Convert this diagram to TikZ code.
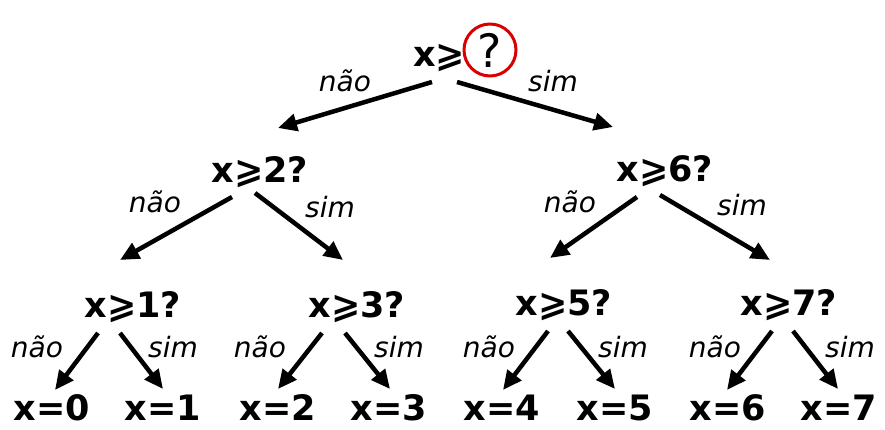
\documentclass[tikz,border=0pt]{standalone}
\usepackage{fontspec}
\setmainfont{DejaVu Sans}
\usetikzlibrary{arrows.meta}

\begin{document}
\begin{tikzpicture}[
			x=1pt, y=-1pt,
			quest/.style={font=\fontsize{35}{40}\selectfont\bfseries, anchor=base, inner sep=0pt},
			leaf/.style={quest, text depth=0pt},
			lab/.style={font=\fontsize{28}{32}\selectfont\itshape, anchor=base, inner sep=0pt},
			arr/.style={line width=4.5pt, -{Triangle[length=19pt,width=17pt]}},
			qcirc/.style={circle, draw=red!85!black, line width=3pt, minimum size=52pt, inner sep=0pt, font=\fontsize{46}{50}\selectfont}
			]
			\useasboundingbox (0,0) rectangle (885,430);
			
			% --------------------------------------------------------------------
			% root question
			% --------------------------------------------------------------------
			\node[quest] (root) at (439,67) {x⩾};
			\node[qcirc] (q) at (490,50) {?};
			
			\node[lab] (nao0) at (345,92) {não};
			\node[lab] (sim0) at (553,92) {sim};
			
			% --------------------------------------------------------------------
			% second level
			% --------------------------------------------------------------------
			\node[quest] (n2) at (260,183) {x⩾2?};
			\node[quest] (n6) at (665,182) {x⩾6?};
			
			\draw[arr] ([shift={(-7,15)}]root.base) -- ([shift={(18,-55)}]n2.base);
			\draw[arr] ([shift={(18,15)}]root.base) -- ([shift={(-52,-55)}]n6.base);
			
			\node[lab] (nao2) at (155,213) {não};
			\node[lab] (sim2) at (330,218) {sim};
			\node[lab] (nao6) at (570,213) {não};
			\node[lab] (sim6) at (742,216) {sim};
			
			% --------------------------------------------------------------------
			% third level
			% --------------------------------------------------------------------
			\node[quest] (n1) at (133,317) {x⩾1?};
			\node[quest] (n3) at (357,317) {x⩾3?};
			\node[quest] (n5) at (564,315) {x⩾5?};
			\node[quest] (n7) at (789,315) {x⩾7?};
			
			\draw[arr] ([shift={(-28,14)}]n2.base) -- ([shift={(-13,-57)}]n1.base);
			\draw[arr] ([shift={(-5,10)}]n2.base) -- ([shift={(-14,-57)}]n3.base);
			\draw[arr] ([shift={(-28,15)}]n6.base) -- ([shift={(-14,-57)}]n5.base);
			\draw[arr] ([shift={(-5,13)}]n6.base) -- ([shift={(-19,-55)}]n7.base);
			
			\node[lab] (nao1) at (37,357) {não};
			\node[lab] (sim1) at (173,357) {sim};
			\node[lab] (nao3) at (260,357) {não};
			\node[lab] (sim3) at (399,357) {sim};
			\node[lab] (nao5) at (489,357) {não};
			\node[lab] (sim5) at (623,357) {sim};
			\node[lab] (nao7) at (715,357) {não};
			\node[lab] (sim7) at (850,357) {sim};
			
			% --------------------------------------------------------------------
			% leaves
			% --------------------------------------------------------------------
			\node[leaf] (x0) at (52,420) {x=0};
			\node[leaf] (x1) at (163,420) {x=1};
			\node[leaf] (x2) at (278,420) {x=2};
			\node[leaf] (x3) at (389,420) {x=3};
			\node[leaf] (x4) at (502,420) {x=4};
			\node[leaf] (x5) at (615,420) {x=5};
			\node[leaf] (x6) at (728,420) {x=6};
			\node[leaf] (x7) at (839,420) {x=7};
			
			\draw[arr] ([shift={(-35,16)}]n1.base) -- ([shift={(3,-30)}]x0.base);
			\draw[arr] ([shift={(-13,16)}]n1.base) -- ([shift={(0,-31)}]x1.base);
			\draw[arr] ([shift={(-35,16)}]n3.base) -- ([shift={(0,-31)}]x2.base);
			\draw[arr] ([shift={(-12,16)}]n3.base) -- ([shift={(1,-31)}]x3.base);
			\draw[arr] ([shift={(-16,16)}]n5.base) -- ([shift={(1,-30)}]x4.base);
			\draw[arr] ([shift={(4,16)}]n5.base) -- ([shift={(0,-31)}]x5.base);
			\draw[arr] ([shift={(-17,16)}]n7.base) -- ([shift={(-1,-30)}]x6.base);
			\draw[arr] ([shift={(4,16)}]n7.base) -- ([shift={(-1,-31)}]x7.base);
			
		\end{tikzpicture}
\end{document}
